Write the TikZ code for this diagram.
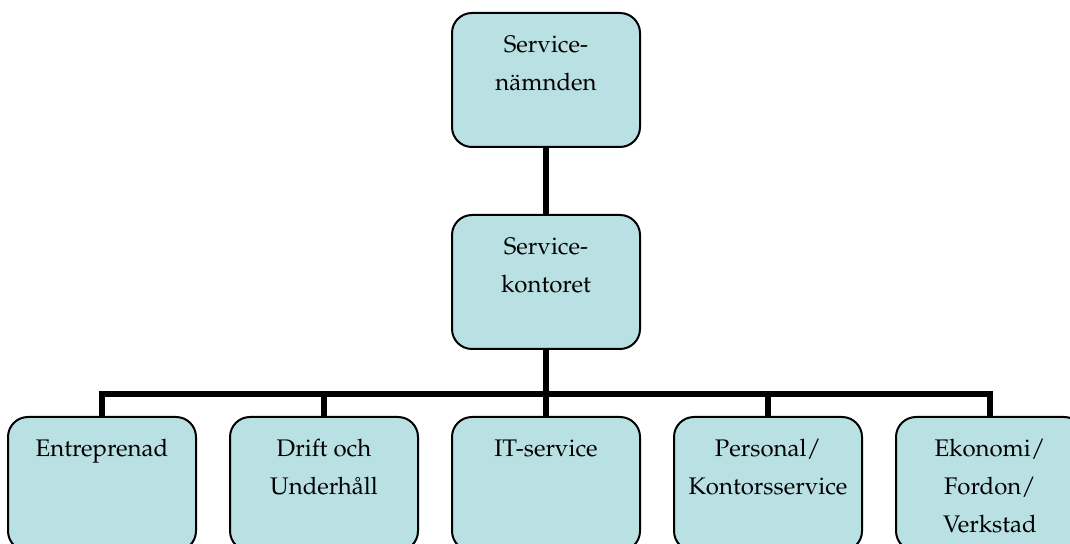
\documentclass[tikz,border=0pt]{standalone}
\usepackage[T1]{fontenc}
\usepackage{mathpazo}
\usepackage{tikz}
\usetikzlibrary{positioning}
\definecolor{boxblue}{RGB}{185,224,227}
\newcommand{\unittext}[1]{\parbox[t][67pt][t]{94pt}{\centering\rule{0pt}{20pt}#1}}

\begin{document}
\begin{tikzpicture}[
node distance=33pt and 16pt, line width=3.2pt,
unitbox/.style={rectangle, draw=black, line width=1pt, fill=boxblue, rounded corners=10pt, inner sep=0pt}]
\tikzstyle{every node}=[font=\fontsize{12}{19}\selectfont]
\useasboundingbox (0,0) rectangle (535pt,-272pt);
\node[unitbox] (namnd) at (273pt,-40pt) {\unittext{Service-\\nämnden}};
\node[unitbox] (kontor) [below=of namnd] {\unittext{Service-\\kontoret}};
\node[unitbox] (it) [below=of kontor] {\unittext{IT-service}};
\node[unitbox] (drift) [left=of it] {\unittext{Drift och\\Underhåll}};
\node[unitbox] (entre) [left=of drift] {\unittext{Entreprenad}};
\node[unitbox] (pers) [right=of it] {\unittext{Personal/\\Kontorsservice}};
\node[unitbox] (ekon) [right=of pers] {\unittext{Ekonomi/\\Fordon/\\Verkstad}};
\coordinate[below=22pt of kontor.south] (hub);

\draw (namnd) -- (kontor);
\draw (kontor) -- (hub);
\draw (hub) -| (entre);
\draw (hub) -| (drift);
\draw (hub) -- (it);
\draw (hub) -| (pers);
\draw (hub) -| (ekon);
\end{tikzpicture}
\end{document}
